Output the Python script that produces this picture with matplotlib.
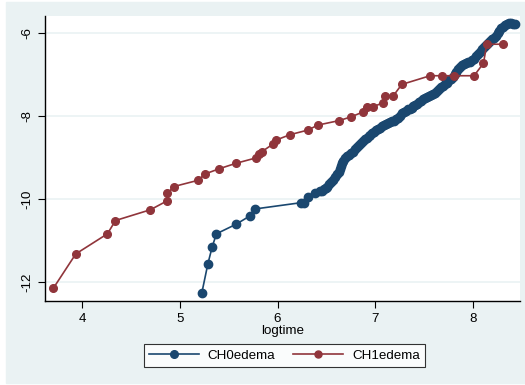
import matplotlib
matplotlib.use("Agg")
import matplotlib.pyplot as plt
from matplotlib.patches import Rectangle

# CH1edema (red) points
ch1_x = [3.706, 3.935, 4.259, 4.341, 4.699, 4.866, 4.873, 4.94, 5.187, 5.255,
         5.405, 5.575, 5.78, 5.814, 5.839, 5.957, 5.985, 6.128, 6.309, 6.411,
         6.632, 6.752, 6.878, 6.919, 6.974, 7.08, 7.10, 7.185, 7.27, 7.56,
         7.68, 7.806, 8.01, 8.106, 8.14, 8.31]
ch1_y = [-12.15, -11.325, -10.84, -10.52, -10.26, -10.05, -9.86, -9.70, -9.55, -9.40,
         -9.27, -9.14, -9.01, -8.92, -8.86, -8.67, -8.58, -8.45, -8.34, -8.22,
         -8.11, -8.02, -7.90, -7.78, -7.78, -7.68, -7.51, -7.51, -7.24, -7.03,
         -7.03, -7.03, -7.03, -6.73, -6.27, -6.27]

# CH0edema (blue) points (dense band above 6.4)
ch0_x = [5.225, 5.286, 5.33, 5.374, 5.575, 5.716, 5.773, 6.24, 6.274, 6.312,
         6.387, 6.43,
         6.45, 6.47, 6.49, 6.51, 6.53, 6.55, 6.57, 6.59, 6.61, 6.63,
         6.64, 6.65, 6.66, 6.67, 6.69, 6.71, 6.73, 6.75, 6.77, 6.79,
         6.81, 6.83, 6.85, 6.87, 6.89, 6.91, 6.93, 6.95, 6.97, 6.99,
         7.01, 7.03, 7.05, 7.07, 7.09, 7.11, 7.13, 7.15, 7.17, 7.19,
         7.21, 7.23, 7.25, 7.27, 7.29, 7.31, 7.33, 7.35, 7.37, 7.39,
         7.41, 7.43, 7.45, 7.47, 7.49, 7.51, 7.53, 7.55, 7.57, 7.59,
         7.61, 7.63, 7.65, 7.67, 7.69, 7.71, 7.73, 7.75, 7.77, 7.79,
         7.81, 7.83, 7.85, 7.87, 7.89, 7.91, 7.93, 7.95, 7.97, 7.99,
         8.01, 8.03, 8.05, 8.07, 8.09, 8.11, 8.13, 8.15, 8.17, 8.19,
         8.21, 8.23, 8.25, 8.27, 8.29, 8.31, 8.33, 8.35, 8.37, 8.39,
         8.41, 8.43]
ch0_y = [-12.26, -11.57, -11.16, -10.84, -10.61, -10.41, -10.24, -10.09, -10.09, -9.96,
         -9.86, -9.82,
         -9.80, -9.76, -9.74, -9.70, -9.64, -9.58, -9.54, -9.48, -9.40, -9.34,
         -9.28, -9.20, -9.14, -9.08, -9.02, -8.97, -8.93, -8.90, -8.86, -8.80,
         -8.75, -8.70, -8.66, -8.61, -8.56, -8.52, -8.49, -8.46, -8.42, -8.38,
         -8.35, -8.31, -8.28, -8.25, -8.22, -8.20, -8.18, -8.15, -8.13, -8.11,
         -8.08, -8.04, -7.99, -7.94, -7.90, -7.87, -7.84, -7.82, -7.80, -7.77,
         -7.74, -7.70, -7.66, -7.63, -7.60, -7.57, -7.55, -7.52, -7.50, -7.47,
         -7.44, -7.40, -7.35, -7.31, -7.27, -7.24, -7.20, -7.14, -7.10, -7.06,
         -7.00, -6.93, -6.86, -6.81, -6.78, -6.75, -6.73, -6.71, -6.69, -6.66,
         -6.62, -6.56, -6.50, -6.45, -6.39, -6.33, -6.28, -6.23, -6.19, -6.15,
         -6.12, -6.07, -6.00, -5.94, -5.89, -5.85, -5.81, -5.78, -5.77, -5.77,
         -5.78, -5.79]

xticks = [4, 5, 6, 7, 8]
yticks = [-12, -10, -8, -6]

blue = "#1a476f"
red = "#90353b"
bg = "#eaf2f3"
fs = 9.6

plt.rcParams["font.family"] = ["Liberation Sans", "DejaVu Sans"]

fig = plt.figure(figsize=(5.25, 3.85), dpi=100, facecolor="white")
fig.patches.append(Rectangle((6 / 525, 0.005), 1 - 6 / 525, 0.99,
                             transform=fig.transFigure, color=bg, zorder=-10))

ax = fig.add_axes([45 / 525, 1 - 301 / 385, 475 / 525, 285 / 385])
ax.set_zorder(1)
ax.set_facecolor("white")

ax.plot(ch0_x, ch0_y, color=blue, marker="o", ms=6, lw=1.2, label="CH0edema", zorder=3)
ax.plot(ch1_x, ch1_y, color=red, marker="o", ms=5.5, lw=1.2, label="CH1edema", zorder=3)

ax.set_xlim(3.62, 8.48)
ax.set_ylim(-12.46, -5.59)
ax.set_xticks(xticks)
ax.set_yticks(yticks)
ax.set_yticklabels([str(v) for v in yticks], rotation=90, va="center")
ax.grid(axis="y", color=bg, lw=1.2)
ax.set_axisbelow(True)

for s in ["top", "right"]:
    ax.spines[s].set_visible(False)
for s in ["left", "bottom"]:
    ax.spines[s].set_color("black")
    ax.spines[s].set_linewidth(1)
ax.tick_params(direction="out", length=5, labelsize=fs, colors="black")
ax.set_xlabel("logtime", fontsize=fs, labelpad=0)

leg = ax.legend(loc="upper center", bbox_to_anchor=(0.504, -0.151), ncol=2,
                frameon=True, fancybox=False, fontsize=fs, handlelength=3.75,
                handletextpad=0.65, columnspacing=1.35, borderpad=0.4,
                borderaxespad=0, markerscale=5.5 / 6)
leg.get_frame().set_edgecolor("black")
leg.get_frame().set_linewidth(0.8)

fig.savefig("out.png", dpi=100, facecolor=fig.get_facecolor())
